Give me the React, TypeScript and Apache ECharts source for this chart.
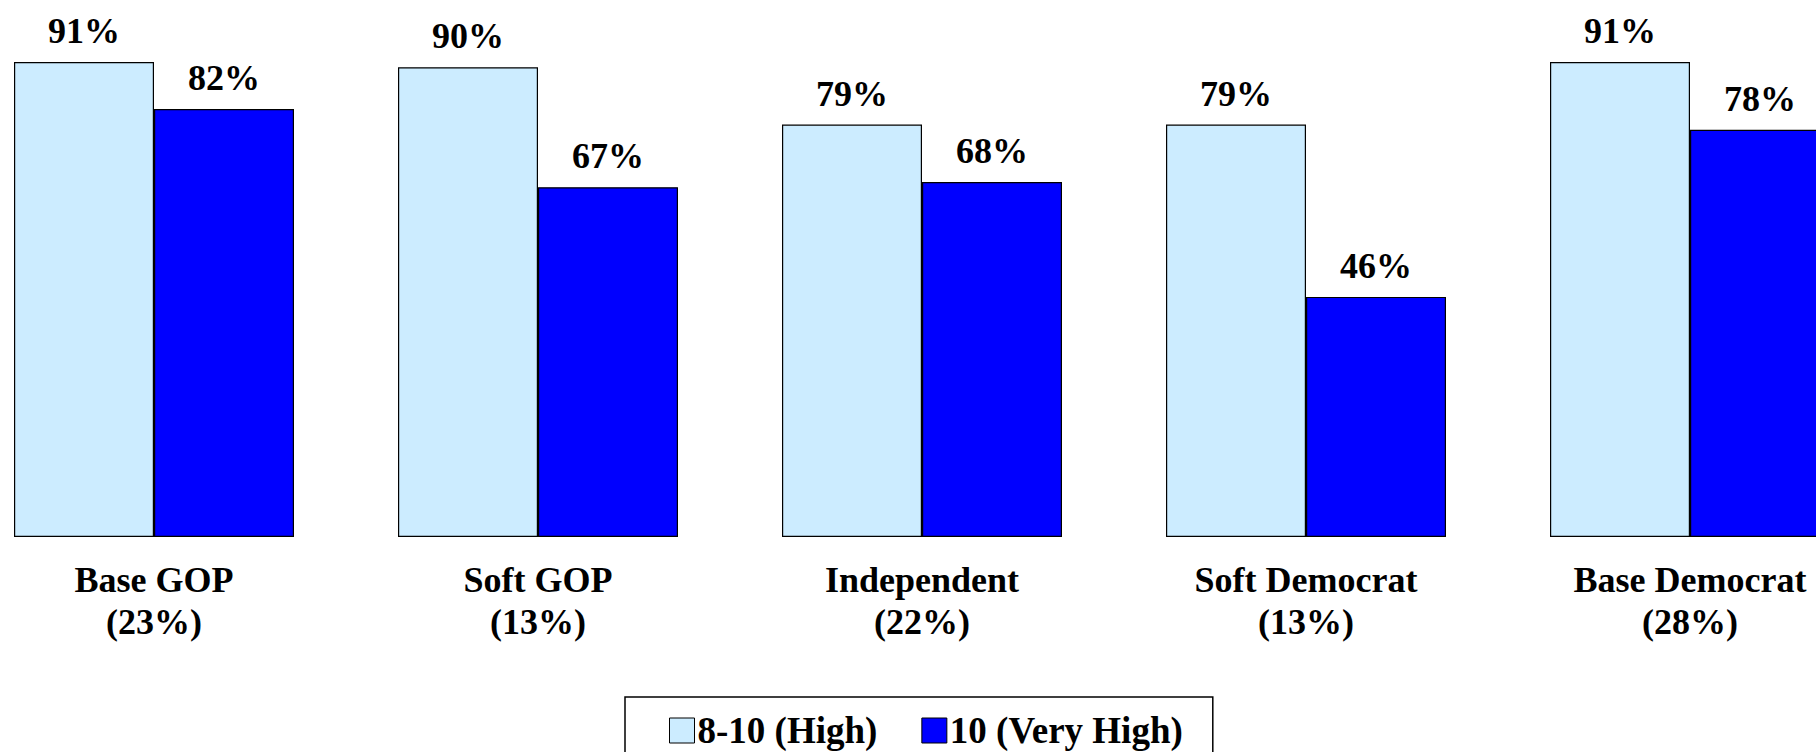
import React, { useEffect, useRef } from "react";
import * as echarts from "echarts";

const categories = ["Base GOP", "Soft GOP", "Independent", "Soft Democrat", "Base Democrat"];
const shares = ["23%", "13%", "22%", "13%", "28%"];
const highValues = [91, 90, 79, 79, 91];
const veryHighValues = [82, 67, 68, 46, 78];
const seriesNames = ["8-10 (High)", "10 (Very High)"];

const FONT = '"Liberation Serif", "Times New Roman", serif';

export default function App() {
  const ref = useRef<HTMLDivElement>(null);
  useEffect(() => {
    if (!ref.current) return;
    const chart = echarts.init(ref.current, null, { renderer: "svg" });
    const labels = categories.map((c, i) => `${c}\n(${shares[i]})`);
    const barLabel = {
      show: true,
      position: "top",
      distance: 13,
      formatter: "{c}%",
      color: "#000",
      fontFamily: FONT,
      fontWeight: "bold",
      fontSize: 36,
    };
    chart.setOption({
      animation: false,
      backgroundColor: "#fff",
      grid: { left: -38, right: -66, top: 15, bottom: 215, outerBoundsMode: "none", containLabel: false },
      xAxis: {
        type: "category",
        data: labels,
        axisLine: { show: false },
        axisTick: { show: false },
        axisLabel: {
          margin: 22,
          color: "#000",
          fontFamily: FONT,
          fontWeight: "bold",
          fontSize: 36,
          lineHeight: 42,
          interval: 0,
        },
      },
      yAxis: { type: "value", min: 0, max: 100, show: false, splitLine: { show: false } },
      legend: {
        left: 625,
        top: 697,
        width: 592,
        orient: "horizontal",
        itemWidth: 25,
        itemHeight: 25,
        itemGap: 44,
        padding: [15, 30, 20, 44],
        borderColor: "#000",
        borderWidth: 1.5,
        icon: "rect",
        itemStyle: { borderColor: "#000", borderWidth: 1 },
        textStyle: { color: "#000", fontFamily: FONT, fontWeight: "bold", fontSize: 37, padding: [0, 0, 0, -2] },
        data: seriesNames,
      },
      series: [
        {
          name: seriesNames[0],
          type: "bar",
          data: highValues,
          barWidth: 140,
          barGap: "0%",
          itemStyle: { color: "#CCECFF", borderColor: "#000", borderWidth: 1.2 },
          label: barLabel,
        },
        {
          name: seriesNames[1],
          type: "bar",
          data: veryHighValues,
          barWidth: 140,
          barGap: "0%",
          itemStyle: { color: "#0000FF", borderColor: "#000", borderWidth: 1.2 },
          label: barLabel,
        },
      ],
    });
    return () => chart.dispose();
  }, []);
  return (
    <div
      ref={ref}
      style={{ position: "absolute", left: 0, top: 0, width: 1816, height: 752, overflow: "hidden" }}
    />
  );
}
